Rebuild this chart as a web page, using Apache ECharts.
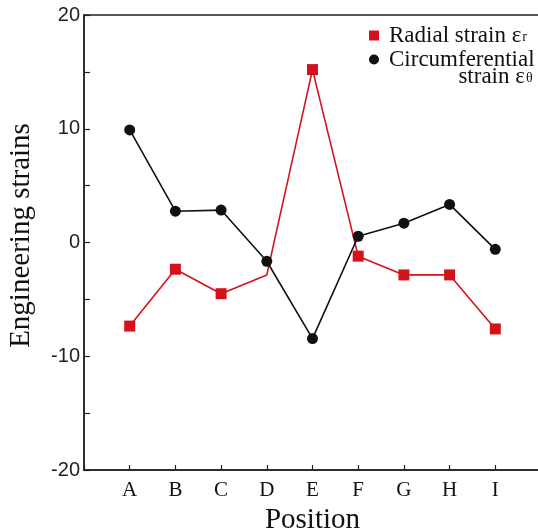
<!DOCTYPE html>
<html>
<head>
<meta charset="utf-8">
<script src="https://cdn.jsdelivr.net/npm/echarts@6/dist/echarts.min.js"></script>
<style>html,body{margin:0;padding:0;background:#fff}#c{width:538px;height:532px}</style>
</head>
<body>
<div id="c"></div>
<script>
const positions = ['A', 'B', 'C', 'D', 'E', 'F', 'G', 'H', 'I'];
const radialStrain = [-7.35, -2.35, -4.5, -2.85, 15.2, -1.2, -2.85, -2.85, -7.6];
const circumferentialStrain = [9.9, 2.75, 2.85, -1.65, -8.45, 0.55, 1.7, 3.35, -0.6];
const yTicks = [-20, -10, 0, 10, 20];
const radialNoMarker = ['D'];

const chart = echarts.init(document.getElementById('c'), null, {renderer: 'canvas'});
const serif = '"Liberation Serif", "Times New Roman", serif';
const sans = '"Liberation Sans", Arial, sans-serif';
const RED = '#d5121c';
const BLK = '#111111';

const radialData = positions.map((p, i) => {
  const item = {value: [i + 1, radialStrain[i]]};
  if (radialNoMarker.indexOf(p) >= 0) item.symbol = 'none';
  return item;
});
const circData = positions.map((p, i) => [i + 1, circumferentialStrain[i]]);

chart.setOption({
  animation: false,
  backgroundColor: '#fff',
  grid: {left: 84, top: 15, width: 457, height: 455, outerBoundsMode: 'none', containLabel: false,
    show: true, borderColor: '#222', borderWidth: 1.5, backgroundColor: 'transparent'},
  xAxis: {
    type: 'value', min: 0, max: 10, interval: 1,
    axisLine: {show: true, onZero: false, lineStyle: {color: '#222', width: 1.5}},
    axisTick: {show: true, inside: true, length: 5, lineStyle: {color: '#222', width: 1.2}},
    splitLine: {show: false},
    axisLabel: {
      margin: 10, color: '#111', fontFamily: serif, fontSize: 21,
      formatter: v => positions[v - 1] || ''
    },
    name: 'Position', nameLocation: 'middle', nameGap: 30,
    nameTextStyle: {fontFamily: serif, fontSize: 29, color: '#111'}
  },
  yAxis: {
    type: 'value', min: yTicks[0], max: yTicks[yTicks.length - 1], interval: 10,
    axisLine: {show: true, onZero: false, lineStyle: {color: '#222', width: 1.5}},
    axisTick: {show: true, inside: true, length: 6, lineStyle: {color: '#222', width: 1.2}},
    minorTick: {show: true, splitNumber: 2, length: 6, lineStyle: {color: '#222', width: 1.2}},
    splitLine: {show: false},
    axisLabel: {margin: 4, color: '#222', fontFamily: sans, fontSize: 20, formatter: v => String(v)},
    name: 'Engineering strains', nameLocation: 'middle', nameGap: 48,
    nameTextStyle: {fontFamily: serif, fontSize: 29, color: '#111', padding: [0, 0, 0, 14]}
  },
  legend: {
    orient: 'vertical', left: 369, top: 24, itemWidth: 10, itemHeight: 10, itemGap: -16,
    padding: 0,
    data: [
      {name: 'Radial', icon: 'rect'},
      {name: 'Circumferential', icon: 'circle'}
    ],
    textStyle: {
      fontFamily: serif, fontSize: 23, color: '#111',
      rich: {
        t: {fontFamily: serif, fontSize: 23, color: '#111', lineHeight: 17, padding: [0, 0, 0, 5]},
        s: {fontFamily: serif, fontSize: 14, color: '#111', lineHeight: 12, verticalAlign: 'bottom', padding: [0, 0, 0, 1]},
        r: {fontFamily: serif, fontSize: 23, color: '#111', align: 'right', lineHeight: 17},
        rs: {fontFamily: serif, fontSize: 14, color: '#111', align: 'right', lineHeight: 12, verticalAlign: 'bottom', padding: [0, 2, 0, 1]}
      }
    },
    formatter: name => name === 'Radial'
      ? '{t|Radial strain ε}{s|r}'
      : '{t| }\n{t|Circumferential}\n{r|strain ε}{rs|θ}'
  },
  series: [
    {
      name: 'Radial', type: 'line', data: radialData,
      symbol: 'rect', symbolSize: 11,
      itemStyle: {color: RED}, lineStyle: {color: RED, width: 1.6}, z: 2
    },
    {
      name: 'Circumferential', type: 'line', data: circData,
      symbol: 'circle', symbolSize: 11,
      itemStyle: {color: BLK}, lineStyle: {color: BLK, width: 1.6}, z: 3
    }
  ]
});
</script>
</body>
</html>
